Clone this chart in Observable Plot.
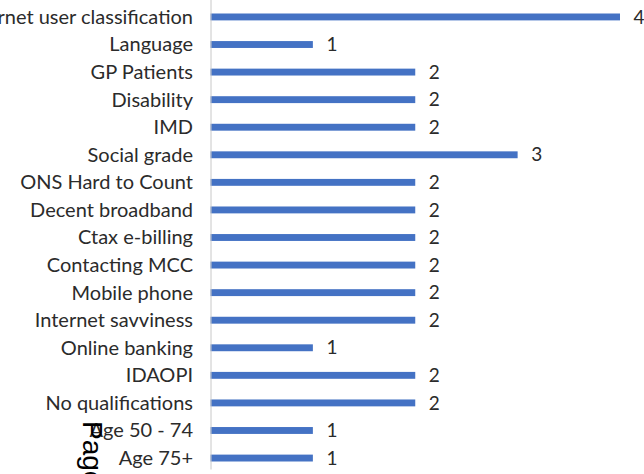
<!DOCTYPE html>
<html>
<head>
<meta charset="utf-8">
<script src="https://cdn.jsdelivr.net/npm/d3@7"></script>
<script src="https://cdn.jsdelivr.net/npm/@observablehq/plot@0.6"></script>
<style>
  html, body { margin: 0; padding: 0; background: #fff; }
  #wrap { position: relative; width: 644px; height: 474px; overflow: hidden; }
  #page { position: absolute; left: 106px; top: 421px; font-family: "Liberation Sans", sans-serif; font-size: 28px; line-height: 1; color: #000; transform: rotate(90deg); transform-origin: 0 0; white-space: nowrap; }
</style>
</head>
<body>
<div id="wrap"><div id="page">Page</div></div>
<script>
const categories = [
  "Internet user classification", "Language", "GP Patients", "Disability", "IMD",
  "Social grade", "ONS Hard to Count", "Decent broadband", "Ctax e-billing",
  "Contacting MCC", "Mobile phone", "Internet savviness", "Online banking",
  "IDAOPI", "No qualifications", "Age 50 - 74", "Age 75+"
];
const values = [4, 1, 2, 2, 2, 3, 2, 2, 2, 2, 2, 2, 1, 2, 2, 1, 1];
const data = categories.map((c, i) => ({category: c, value: values[i]}));

const chart = Plot.plot({
  width: 644,
  height: 474,
  marginLeft: 210.5,
  marginRight: 24,
  marginTop: 13.5,
  marginBottom: 12.5,
  style: {fontFamily: "Lato, sans-serif", fontSize: "20px", color: "#2b2b2b", background: "#fff"},
  x: {domain: [0, 4], axis: null},
  y: {domain: categories, paddingInner: 0.75, paddingOuter: 0, round: false, label: null, tickSize: 0, tickPadding: 18},
  marks: [
    Plot.barX(data, {x: "value", y: "category", fill: "#4472C4"}),
    Plot.ruleX([0], {stroke: "#c8c8c8", strokeWidth: 1, insetTop: -14, insetBottom: -8}),
    Plot.text(data, {x: "value", y: "category", text: d => String(d.value), textAnchor: "start", dx: 13, fill: "#2b2b2b", fontSize: 19})
  ]
});
chart.style.position = "absolute";
chart.style.left = "0";
chart.style.top = "0";
const wrap = document.getElementById("wrap");
wrap.insertBefore(chart, wrap.firstChild);
</script>
</body>
</html>
